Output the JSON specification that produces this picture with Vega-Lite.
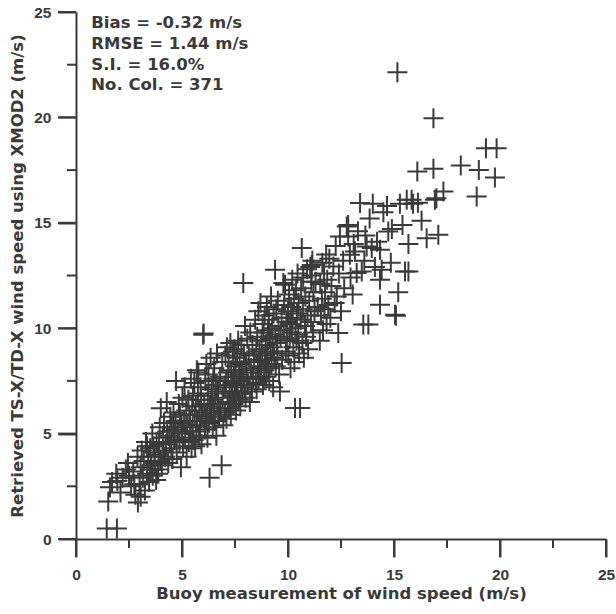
{
  "$schema": "https://vega.github.io/schema/vega-lite/v6.json",
  "width": 530,
  "height": 527,
  "autosize": "none",
  "padding": {"left": 76, "top": 12, "right": 10, "bottom": 75},
  "background": "white",
  "config": {
    "view": {"stroke": null},
    "font": "Liberation Sans",
    "axis": {
      "grid": false,
      "ticks": true,
      "domainColor": "#3a3a3a",
      "domainWidth": 2,
      "tickColor": "#3a3a3a",
      "tickWidth": 2,
      "labelFont": "Liberation Sans",
      "labelFontWeight": "bold",
      "labelFontSize": 15.5,
      "labelColor": "#3a3a3a",
      "labelFlush": false,
      "titleFont": "DejaVu Sans",
      "titleFontWeight": "bold",
      "titleFontSize": 16.5,
      "titleColor": "#3a3a3a",
      "labelOverlap": false
    }
  },
  "datasets": {
    "major": [{"v":0},{"v":5},{"v":10},{"v":15},{"v":20},{"v":25}],
    "minor": [{"v":2.5},{"v":7.5},{"v":12.5},{"v":17.5},{"v":22.5}],
    "pts": [
    {"buoy":1.45,"sar":0.5},{"buoy":1.93,"sar":0.5},{"buoy":1.52,"sar":1.78},{"buoy":2.92,"sar":1.73},{"buoy":1.7,"sar":2.7},{"buoy":1.6,"sar":2.45},{"buoy":1.9,"sar":3.1},{"buoy":2.2,"sar":2.9},{"buoy":2.35,"sar":3.3},{"buoy":2.1,"sar":2.2},{"buoy":2.5,"sar":3.0},{"buoy":2.6,"sar":2.5},{"buoy":2.45,"sar":3.6},{"buoy":1.95,"sar":2.75},
    {"buoy":2.7,"sar":3.2},{"buoy":2.8,"sar":2.1},{"buoy":2.9,"sar":3.9},{"buoy":3.0,"sar":2.6},{"buoy":3.05,"sar":3.4},{"buoy":3.1,"sar":4.2},{"buoy":3.15,"sar":2.9},{"buoy":3.2,"sar":3.7},{"buoy":3.25,"sar":2.3},{"buoy":3.3,"sar":4.6},{"buoy":3.35,"sar":3.1},{"buoy":3.4,"sar":3.9},{"buoy":3.45,"sar":2.7},{"buoy":3.5,"sar":4.3},{"buoy":3.55,"sar":3.5},{"buoy":3.6,"sar":5.0},{"buoy":3.62,"sar":3.0},{"buoy":3.7,"sar":4.1},{"buoy":3.72,"sar":3.6},{"buoy":3.78,"sar":2.8},{"buoy":3.8,"sar":4.6},{"buoy":3.85,"sar":3.3},{"buoy":3.9,"sar":4.0},{"buoy":3.95,"sar":5.3},{"buoy":3.98,"sar":3.7},{"buoy":2.75,"sar":2.6},{"buoy":3.05,"sar":2.0},{"buoy":3.35,"sar":4.4},{"buoy":3.5,"sar":3.3},{"buoy":3.65,"sar":4.4},{"buoy":3.88,"sar":3.1},{"buoy":3.92,"sar":4.5},
    {"buoy":4.0,"sar":6.2},{"buoy":4.05,"sar":3.5},{"buoy":4.1,"sar":4.8},{"buoy":4.12,"sar":4.2},{"buoy":4.15,"sar":5.5},{"buoy":4.2,"sar":3.9},{"buoy":4.25,"sar":4.5},{"buoy":4.28,"sar":6.5},{"buoy":4.3,"sar":5.1},{"buoy":4.35,"sar":3.6},{"buoy":4.4,"sar":4.9},{"buoy":4.45,"sar":5.8},{"buoy":4.5,"sar":4.3},{"buoy":4.52,"sar":5.3},{"buoy":4.55,"sar":3.8},{"buoy":4.6,"sar":6.0},{"buoy":4.65,"sar":4.7},{"buoy":4.7,"sar":5.6},{"buoy":4.72,"sar":7.5},{"buoy":4.75,"sar":4.1},{"buoy":4.8,"sar":5.2},{"buoy":4.85,"sar":6.4},{"buoy":4.88,"sar":4.6},{"buoy":4.9,"sar":5.9},{"buoy":4.95,"sar":3.4},{"buoy":5.0,"sar":5.0},{"buoy":5.02,"sar":6.7},{"buoy":5.05,"sar":4.4},{"buoy":5.1,"sar":5.6},{"buoy":5.12,"sar":7.2},{"buoy":5.15,"sar":4.8},{"buoy":5.2,"sar":6.1},{"buoy":5.22,"sar":3.9},{"buoy":5.25,"sar":5.4},{"buoy":5.3,"sar":6.6},{"buoy":5.32,"sar":4.6},{"buoy":5.35,"sar":5.9},{"buoy":5.4,"sar":5.1},{"buoy":5.42,"sar":7.6},{"buoy":5.45,"sar":4.3},{"buoy":5.48,"sar":6.3},{"buoy":4.42,"sar":4.6},{"buoy":4.62,"sar":5.1},{"buoy":4.98,"sar":5.5},{"buoy":5.38,"sar":5.6},
    {"buoy":5.5,"sar":5.3},{"buoy":5.52,"sar":6.8},{"buoy":5.55,"sar":4.7},{"buoy":5.58,"sar":7.4},{"buoy":5.6,"sar":5.9},{"buoy":5.62,"sar":4.4},{"buoy":5.65,"sar":6.3},{"buoy":5.68,"sar":5.1},{"buoy":5.7,"sar":8.0},{"buoy":5.72,"sar":5.6},{"buoy":5.75,"sar":6.9},{"buoy":5.77,"sar":7.9},{"buoy":5.8,"sar":4.9},{"buoy":5.82,"sar":6.1},{"buoy":5.85,"sar":5.4},{"buoy":5.88,"sar":7.2},{"buoy":5.9,"sar":6.6},{"buoy":5.92,"sar":4.5},{"buoy":5.95,"sar":5.8},{"buoy":6.0,"sar":9.69},{"buoy":6.02,"sar":9.75},{"buoy":6.05,"sar":6.4},{"buoy":6.08,"sar":5.2},{"buoy":6.1,"sar":7.5},{"buoy":6.12,"sar":5.7},{"buoy":6.15,"sar":8.3},{"buoy":6.18,"sar":6.0},{"buoy":6.2,"sar":4.8},{"buoy":6.22,"sar":6.8},{"buoy":6.25,"sar":7.8},{"buoy":6.28,"sar":5.5},{"buoy":6.3,"sar":2.9},{"buoy":6.32,"sar":6.3},{"buoy":6.35,"sar":8.6},{"buoy":6.38,"sar":5.9},{"buoy":6.4,"sar":7.1},{"buoy":6.42,"sar":6.6},{"buoy":6.45,"sar":5.3},{"buoy":6.48,"sar":7.6},{"buoy":6.5,"sar":6.2},{"buoy":6.52,"sar":8.1},{"buoy":6.55,"sar":5.6},{"buoy":6.58,"sar":6.9},{"buoy":6.6,"sar":7.3},{"buoy":6.62,"sar":4.9},{"buoy":6.65,"sar":8.8},{"buoy":6.68,"sar":6.4},{"buoy":6.7,"sar":7.0},{"buoy":6.75,"sar":5.8},{"buoy":6.8,"sar":7.7},{"buoy":6.82,"sar":6.1},{"buoy":6.87,"sar":3.5},{"buoy":6.9,"sar":8.4},{"buoy":6.92,"sar":6.7},{"buoy":6.95,"sar":5.4},
    {"buoy":7.0,"sar":7.2},{"buoy":7.02,"sar":6.0},{"buoy":7.05,"sar":8.7},{"buoy":7.08,"sar":7.5},{"buoy":7.1,"sar":5.7},{"buoy":7.12,"sar":9.1},{"buoy":7.15,"sar":6.5},{"buoy":7.18,"sar":7.9},{"buoy":7.2,"sar":8.4},{"buoy":7.22,"sar":6.2},{"buoy":7.25,"sar":7.0},{"buoy":7.28,"sar":9.3},{"buoy":7.3,"sar":5.9},{"buoy":7.32,"sar":8.0},{"buoy":7.35,"sar":6.8},{"buoy":7.38,"sar":7.4},{"buoy":7.4,"sar":8.9},{"buoy":7.42,"sar":6.4},{"buoy":7.45,"sar":7.7},{"buoy":7.48,"sar":9.0},{"buoy":7.5,"sar":6.9},{"buoy":7.52,"sar":8.2},{"buoy":7.55,"sar":6.1},{"buoy":7.58,"sar":7.3},{"buoy":7.6,"sar":8.6},{"buoy":7.62,"sar":7.0},{"buoy":7.65,"sar":9.4},{"buoy":7.68,"sar":6.6},{"buoy":7.7,"sar":7.8},{"buoy":7.72,"sar":8.3},{"buoy":7.75,"sar":6.3},{"buoy":7.78,"sar":7.5},{"buoy":7.8,"sar":9.2},{"buoy":7.82,"sar":8.0},{"buoy":7.85,"sar":6.9},{"buoy":7.89,"sar":12.14},{"buoy":7.9,"sar":7.6},{"buoy":7.92,"sar":8.8},{"buoy":7.95,"sar":7.2},{"buoy":7.97,"sar":10.1},{"buoy":8.0,"sar":6.7},{"buoy":8.02,"sar":8.4},{"buoy":8.05,"sar":7.9},{"buoy":8.08,"sar":9.5},{"buoy":8.1,"sar":7.3},{"buoy":8.15,"sar":8.7},{"buoy":8.2,"sar":6.5},{"buoy":8.22,"sar":9.8},{"buoy":8.25,"sar":8.1},{"buoy":8.3,"sar":7.0},{"buoy":8.32,"sar":9.2},{"buoy":8.35,"sar":7.7},{"buoy":8.4,"sar":8.5},{"buoy":8.45,"sar":10.4},{"buoy":8.48,"sar":7.4},
    {"buoy":8.5,"sar":8.9},{"buoy":8.52,"sar":7.1},{"buoy":8.55,"sar":9.6},{"buoy":8.58,"sar":8.2},{"buoy":8.6,"sar":10.8},{"buoy":8.62,"sar":7.6},{"buoy":8.65,"sar":9.0},{"buoy":8.68,"sar":8.4},{"buoy":8.7,"sar":11.2},{"buoy":8.72,"sar":7.9},{"buoy":8.75,"sar":9.4},{"buoy":8.78,"sar":8.7},{"buoy":8.8,"sar":10.2},{"buoy":8.82,"sar":7.3},{"buoy":8.85,"sar":9.8},{"buoy":8.88,"sar":8.0},{"buoy":8.9,"sar":10.6},{"buoy":8.92,"sar":8.5},{"buoy":8.95,"sar":9.2},{"buoy":8.98,"sar":7.7},{"buoy":9.0,"sar":11.0},{"buoy":9.02,"sar":8.8},{"buoy":9.05,"sar":9.9},{"buoy":9.08,"sar":8.1},{"buoy":9.1,"sar":10.4},{"buoy":9.12,"sar":7.5},{"buoy":9.15,"sar":9.5},{"buoy":9.18,"sar":8.9},{"buoy":9.2,"sar":11.5},{"buoy":9.22,"sar":8.3},{"buoy":9.25,"sar":10.0},{"buoy":9.28,"sar":9.1},{"buoy":9.3,"sar":7.2},{"buoy":9.32,"sar":10.7},{"buoy":9.35,"sar":8.6},{"buoy":9.39,"sar":12.77},{"buoy":9.4,"sar":9.7},{"buoy":9.42,"sar":8.2},{"buoy":9.45,"sar":10.9},{"buoy":9.48,"sar":9.3},{"buoy":9.5,"sar":8.8},{"buoy":9.52,"sar":11.3},{"buoy":9.55,"sar":10.1},{"buoy":9.58,"sar":7.8},{"buoy":9.62,"sar":7.0},{"buoy":9.65,"sar":9.6},{"buoy":9.7,"sar":10.5},{"buoy":9.72,"sar":8.5},{"buoy":9.78,"sar":12.14},{"buoy":9.8,"sar":9.9},{"buoy":9.82,"sar":11.1},{"buoy":9.86,"sar":12.06},{"buoy":9.9,"sar":8.9},{"buoy":9.92,"sar":10.3},{"buoy":9.95,"sar":9.4},
    {"buoy":10.0,"sar":10.8},{"buoy":10.02,"sar":8.7},{"buoy":10.05,"sar":11.6},{"buoy":10.08,"sar":9.5},{"buoy":10.1,"sar":10.2},{"buoy":10.12,"sar":8.1},{"buoy":10.15,"sar":11.0},{"buoy":10.18,"sar":9.8},{"buoy":10.2,"sar":12.3},{"buoy":10.22,"sar":10.5},{"buoy":10.25,"sar":9.1},{"buoy":10.28,"sar":11.4},{"buoy":10.3,"sar":8.4},{"buoy":10.33,"sar":6.22},{"buoy":10.35,"sar":10.0},{"buoy":10.38,"sar":11.8},{"buoy":10.4,"sar":9.4},{"buoy":10.42,"sar":10.7},{"buoy":10.45,"sar":12.6},{"buoy":10.48,"sar":9.7},{"buoy":10.5,"sar":11.2},{"buoy":10.52,"sar":8.8},{"buoy":10.57,"sar":6.22},{"buoy":10.6,"sar":10.4},{"buoy":10.62,"sar":11.9},{"buoy":10.65,"sar":13.8},{"buoy":10.68,"sar":9.3},{"buoy":10.7,"sar":10.9},{"buoy":10.72,"sar":12.4},{"buoy":10.75,"sar":8.6},{"buoy":10.8,"sar":10.1},{"buoy":10.82,"sar":11.5},{"buoy":10.85,"sar":9.6},{"buoy":10.9,"sar":12.8},{"buoy":10.92,"sar":10.6},{"buoy":10.95,"sar":9.0},{"buoy":11.0,"sar":11.3},{"buoy":11.05,"sar":12.9},{"buoy":11.08,"sar":10.3},{"buoy":11.1,"sar":12.5},{"buoy":11.1,"sar":12.2},{"buoy":11.12,"sar":13.0},{"buoy":11.15,"sar":13.2},{"buoy":11.18,"sar":9.8},{"buoy":11.2,"sar":11.7},{"buoy":11.25,"sar":10.8},{"buoy":11.3,"sar":12.2},{"buoy":11.4,"sar":11.0},
    {"buoy":11.5,"sar":9.4},{"buoy":11.52,"sar":12.1},{"buoy":11.55,"sar":10.6},{"buoy":11.6,"sar":11.4},{"buoy":11.62,"sar":13.1},{"buoy":11.65,"sar":9.9},{"buoy":11.7,"sar":12.6},{"buoy":11.72,"sar":10.9},{"buoy":11.75,"sar":11.7},{"buoy":11.8,"sar":13.5},{"buoy":11.82,"sar":10.2},{"buoy":11.85,"sar":12.3},{"buoy":11.9,"sar":11.1},{"buoy":11.95,"sar":13.3},{"buoy":12.0,"sar":10.5},{"buoy":12.05,"sar":12.0},{"buoy":12.14,"sar":12.93},{"buoy":12.2,"sar":11.2},{"buoy":12.25,"sar":13.9},{"buoy":12.3,"sar":11.5},{"buoy":12.37,"sar":9.77},{"buoy":12.4,"sar":12.6},{"buoy":12.45,"sar":14.35},{"buoy":12.5,"sar":10.8},{"buoy":12.53,"sar":8.35},{"buoy":12.6,"sar":13.2},{"buoy":12.65,"sar":11.9},{"buoy":12.77,"sar":14.82},{"buoy":12.84,"sar":14.35},{"buoy":12.84,"sar":14.9},{"buoy":12.92,"sar":13.48},{"buoy":12.95,"sar":12.4},
    {"buoy":13.05,"sar":11.6},{"buoy":13.1,"sar":14.0},{"buoy":13.16,"sar":13.64},{"buoy":13.24,"sar":12.62},{"buoy":13.3,"sar":14.6},{"buoy":13.4,"sar":15.94},{"buoy":13.48,"sar":12.69},{"buoy":13.55,"sar":10.17},{"buoy":13.6,"sar":13.2},{"buoy":13.71,"sar":13.88},{"buoy":13.79,"sar":10.17},{"buoy":13.85,"sar":15.2},{"buoy":13.95,"sar":13.8},{"buoy":14.0,"sar":15.9},{"buoy":14.1,"sar":12.9},{"buoy":14.2,"sar":14.1},{"buoy":14.34,"sar":13.72},{"buoy":14.34,"sar":12.3},{"buoy":14.34,"sar":11.11},{"buoy":14.42,"sar":12.77},{"buoy":14.5,"sar":15.5},{"buoy":14.67,"sar":15.8},{"buoy":14.73,"sar":14.59},{"buoy":14.85,"sar":13.1},{"buoy":14.9,"sar":14.7},{"buoy":13.65,"sar":14.4},
    {"buoy":15.05,"sar":10.64},{"buoy":15.09,"sar":10.59},{"buoy":15.16,"sar":22.14},{"buoy":15.2,"sar":11.7},{"buoy":15.28,"sar":15.9},{"buoy":15.4,"sar":14.9},{"buoy":15.52,"sar":12.69},{"buoy":15.6,"sar":16.09},{"buoy":15.68,"sar":12.69},{"buoy":15.68,"sar":13.99},{"buoy":15.83,"sar":16.09},{"buoy":15.9,"sar":15.9},{"buoy":16.1,"sar":17.43},{"buoy":16.13,"sar":15.95},{"buoy":16.3,"sar":15.1},{"buoy":16.54,"sar":14.27},{"buoy":16.86,"sar":19.96},{"buoy":16.86,"sar":17.56},{"buoy":16.93,"sar":16.09},{"buoy":17.0,"sar":16.17},{"buoy":17.09,"sar":14.43},{"buoy":17.33,"sar":16.48},
    {"buoy":18.15,"sar":17.72},{"buoy":18.9,"sar":16.25},{"buoy":19.0,"sar":17.51},{"buoy":19.34,"sar":18.54},{"buoy":19.76,"sar":17.15},{"buoy":19.84,"sar":18.54}
  ]},
  "layer": [
    {
      "data": {"name": "pts"},
      "mark": {"type": "point", "shape": "M-1,0L1,0M0,-1L0,1", "filled": false, "size": 400, "strokeWidth": 2, "color": "#3a3a3a", "opacity": 1},
      "encoding": {
        "x": {
          "field": "buoy", "type": "quantitative",
          "scale": {"domain": [0, 25], "nice": false, "zero": false},
          "axis": {
            "title": "Buoy measurement of wind speed (m/s)",
            "values": [0, 5, 10, 15, 20, 25],
            "tickSize": 18,
            "labelPadding": 10,
            "titlePadding": 3
          }
        },
        "y": {
          "field": "sar", "type": "quantitative",
          "scale": {"domain": [0, 25], "nice": false, "zero": false},
          "axis": {
            "title": "Retrieved TS-X/TD-X wind speed using XMOD2 (m/s)",
            "values": [0, 5, 10, 15, 20, 25],
            "tickSize": 18,
            "labelPadding": 7,
            "titlePadding": 8
          }
        }
      }
    },
    {
      "data": {"name": "major"},
      "mark": {"type": "rule", "strokeWidth": 2, "color": "#3a3a3a"},
      "encoding": {"x": {"field": "v", "type": "quantitative"}, "y": {"datum": 0}, "y2": {"datum": -0.85}}
    },
    {
      "data": {"name": "minor"},
      "mark": {"type": "rule", "strokeWidth": 2, "color": "#3a3a3a"},
      "encoding": {"x": {"field": "v", "type": "quantitative"}, "y": {"datum": 0}, "y2": {"datum": -0.43}}
    },
    {
      "data": {"name": "major"},
      "mark": {"type": "rule", "strokeWidth": 2, "color": "#3a3a3a"},
      "encoding": {"y": {"field": "v", "type": "quantitative"}, "x": {"datum": 0}, "x2": {"datum": -0.85}}
    },
    {
      "data": {"name": "minor"},
      "mark": {"type": "rule", "strokeWidth": 2, "color": "#3a3a3a"},
      "encoding": {"y": {"field": "v", "type": "quantitative"}, "x": {"datum": 0}, "x2": {"datum": -0.43}}
    },
    {
      "data": {"values": [{}]},
      "mark": {"type": "text", "align": "left", "baseline": "top", "font": "DejaVu Sans", "fontWeight": "bold", "fontSize": 16.5, "lineHeight": 20.7, "color": "#3a3a3a"},
      "encoding": {
        "x": {"datum": 0.72},
        "y": {"datum": 24.85},
        "text": {"value": ["Bias = -0.32 m/s", "RMSE = 1.44 m/s", "S.I. = 16.0%", "No. Col. = 371"]}
      }
    }
  ]
}
